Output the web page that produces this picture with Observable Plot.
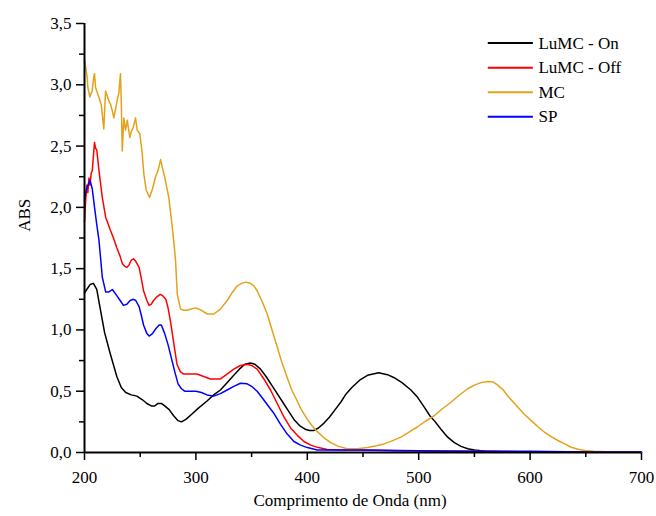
<!DOCTYPE html>
<html><head><meta charset="utf-8">
<script src="https://cdn.jsdelivr.net/npm/d3@7"></script>
<script src="https://cdn.jsdelivr.net/npm/@observablehq/plot@0.6"></script>
</head><body style="margin:0;background:#fff;font-family:'Liberation Serif'"><div id="chart"></div>
<script>
const seriesNames = ["LuMC - On", "LuMC - Off", "MC", "SP"];
const seriesColors = ["#000000", "#ff0000", "#e3a21a", "#0000ff"];

const xTicks = [200, 300, 400, 500, 600, 700];
const xMinorTicks = [250, 350, 450, 550, 650];
const yTicks = [0, 0.5, 1, 1.5, 2, 2.5, 3, 3.5];
const yMinorTicks = [0.25, 0.75, 1.25, 1.75, 2.25, 2.75, 3.25];

const onWl = [200, 202, 205, 208, 211, 214, 218, 223, 229, 233, 237, 242, 247, 252, 256, 260, 263, 266, 269, 272, 276, 280, 284, 287, 291, 296, 302, 310, 316, 322, 328, 334, 339, 344, 349, 353, 358, 363, 368, 373, 378, 383, 388, 393, 398, 402, 406, 410, 415, 420, 425, 430, 435, 440, 447, 454, 464, 472, 478, 485, 493, 499, 505, 510, 514, 520, 526, 532, 538, 544, 550, 560, 580, 640, 700];
const onAbs = [1.30, 1.33, 1.37, 1.38, 1.33, 1.18, 0.98, 0.81, 0.62, 0.53, 0.49, 0.47, 0.46, 0.43, 0.40, 0.38, 0.38, 0.40, 0.40, 0.38, 0.35, 0.30, 0.26, 0.25, 0.27, 0.31, 0.36, 0.42, 0.47, 0.51, 0.57, 0.63, 0.68, 0.72, 0.73, 0.72, 0.68, 0.62, 0.55, 0.48, 0.41, 0.34, 0.27, 0.22, 0.19, 0.18, 0.18, 0.20, 0.24, 0.29, 0.35, 0.41, 0.48, 0.53, 0.59, 0.63, 0.65, 0.635, 0.61, 0.57, 0.51, 0.45, 0.37, 0.30, 0.26, 0.19, 0.125, 0.08, 0.05, 0.03, 0.02, 0.01, 0.005, 0.003, 0.003];

const offWl = [200, 201, 202, 203, 204, 205, 206, 207, 208, 209, 210, 211, 213, 216, 219, 223, 226, 229, 232, 234, 236, 238, 240, 242, 244, 246, 249, 251, 253, 256, 258, 260, 262, 265, 268, 270, 273, 275, 277, 280, 283, 286, 289, 295, 301, 307, 313, 318, 322, 328, 334, 340, 346, 350, 355, 361, 367, 373, 379, 385, 391, 397, 403, 410, 418, 430, 450, 480, 520, 560, 600, 650, 700];
const offAbs = [1.88, 2.05, 2.18, 2.12, 2.24, 2.18, 2.28, 2.30, 2.42, 2.53, 2.48, 2.47, 2.30, 2.08, 1.92, 1.82, 1.75, 1.67, 1.60, 1.54, 1.52, 1.51, 1.53, 1.57, 1.58, 1.56, 1.51, 1.42, 1.32, 1.24, 1.20, 1.21, 1.24, 1.27, 1.29, 1.28, 1.25, 1.18, 1.08, 0.90, 0.72, 0.66, 0.64, 0.64, 0.64, 0.62, 0.60, 0.60, 0.60, 0.64, 0.68, 0.71, 0.72, 0.71, 0.68, 0.60, 0.51, 0.40, 0.29, 0.20, 0.14, 0.09, 0.06, 0.04, 0.025, 0.02, 0.02, 0.015, 0.01, 0.01, 0.005, 0.003, 0.003];

const mcWl = [200, 201, 202.4, 203, 204.8, 206, 206.9, 208.4, 209, 209.9, 211, 212.8, 215, 217.3, 218.9, 220, 221.8, 223.4, 224.9, 226.3, 228.7, 229.9, 230.8, 232.3, 233, 233.9, 235.3, 236.8, 238.4, 240.7, 242, 243.7, 245.8, 247.3, 249.7, 251.8, 253.3, 255.4, 258.4, 261, 263.8, 266, 268.3, 270, 271.9, 275.7, 278, 280.2, 281.7, 283.3, 286.2, 289, 292.2, 296, 299.7, 305, 310.2, 316.1, 322, 328.1, 333, 337.1, 341, 344.6, 349, 352, 355, 360, 364, 368, 373, 377, 382, 386, 391, 394, 400, 405, 409, 415, 421, 428, 436, 445, 454, 462, 469, 476, 484, 491, 499, 506, 514, 521, 529, 536, 544, 550, 556, 562, 567, 571, 576, 580, 585, 589, 595, 601, 607, 613, 619, 625, 631, 637, 643, 649, 657, 670, 700];
const mcAbs = [3.20, 3.15, 3.06, 2.98, 2.90, 2.93, 2.95, 3.07, 3.09, 2.98, 2.95, 2.90, 2.84, 2.64, 2.95, 2.92, 2.87, 2.84, 2.79, 2.73, 2.84, 2.90, 2.93, 3.09, 2.87, 2.46, 2.73, 2.63, 2.71, 2.57, 2.62, 2.65, 2.73, 2.63, 2.60, 2.44, 2.27, 2.14, 2.08, 2.15, 2.25, 2.30, 2.39, 2.32, 2.25, 2.08, 1.90, 1.72, 1.57, 1.29, 1.17, 1.16, 1.16, 1.17, 1.18, 1.16, 1.13, 1.13, 1.17, 1.24, 1.31, 1.36, 1.38, 1.39, 1.38, 1.36, 1.32, 1.22, 1.13, 1.01, 0.86, 0.74, 0.61, 0.51, 0.42, 0.36, 0.27, 0.21, 0.17, 0.12, 0.08, 0.05, 0.03, 0.03, 0.04, 0.055, 0.07, 0.095, 0.125, 0.165, 0.21, 0.255, 0.30, 0.355, 0.41, 0.465, 0.52, 0.55, 0.57, 0.58, 0.575, 0.55, 0.51, 0.46, 0.41, 0.37, 0.31, 0.26, 0.21, 0.165, 0.13, 0.098, 0.07, 0.043, 0.027, 0.016, 0.01, 0.006, 0.005];

const spWl = [200, 201, 202, 203, 205, 207, 209, 211, 213, 216, 219, 222, 225, 229, 232, 235, 238, 241, 244, 246, 249, 251, 253, 256, 258, 261, 264, 267, 269, 272, 275, 278, 281, 284, 287, 290, 295, 300, 305, 310, 316, 322, 328, 334, 340, 346, 350, 355, 360, 365, 370, 376, 382, 388, 394, 400, 409, 420, 450, 500, 550, 600, 650, 700];
const spAbs = [2.06, 2.12, 2.15, 2.18, 2.22, 2.15, 2.00, 1.86, 1.73, 1.43, 1.31, 1.31, 1.33, 1.28, 1.24, 1.20, 1.21, 1.24, 1.25, 1.24, 1.19, 1.12, 1.04, 0.97, 0.95, 0.97, 1.01, 1.04, 1.04, 0.97, 0.88, 0.77, 0.66, 0.56, 0.52, 0.50, 0.50, 0.50, 0.49, 0.47, 0.46, 0.48, 0.51, 0.54, 0.565, 0.56, 0.54, 0.50, 0.44, 0.38, 0.32, 0.23, 0.15, 0.09, 0.06, 0.04, 0.02, 0.02, 0.02, 0.015, 0.01, 0.01, 0.005, 0.005];

const seriesWl = [onWl, offWl, mcWl, spWl];
const seriesAbs = [onAbs, offAbs, mcAbs, spAbs];
const rows = [];
seriesNames.forEach((name, i) => {
  seriesWl[i].forEach((w, j) => rows.push({series: name, wl: w, abs: seriesAbs[i][j]}));
});

// legend layout (in data units)
const legX1 = 562, legX2 = 602.5, legTextX = 607.5, legTop = 3.34, legStep = 0.2;
const legend = seriesNames.map((name, i) => ({series: name, y: legTop - i * legStep}));
const yLabelPos = 1.80;

const font = "Liberation Serif";
const fs = 17;
const fmt = v => v.toFixed(1).replace(".", ",");

const chart = Plot.plot({
  width: 656, height: 516,
  marginLeft: 84, marginRight: 15, marginTop: 23, marginBottom: 64,
  style: "background: #fff; color: #000; font-family: 'Liberation Serif'; font-size: 17px;",
  x: {domain: [200, 700]},
  y: {domain: [0, 3.5]},
  color: {domain: seriesNames, range: seriesColors},
  marks: [
    Plot.axisY({ticks: yTicks, tickSize: 8, tickPadding: 5, tickFormat: fmt, label: null, strokeWidth: 1.5, fontSize: fs, fontFamily: font}),
    Plot.axisY({ticks: yMinorTicks, tickSize: 5, tickFormat: () => "", label: null, strokeWidth: 1.5}),
    Plot.axisX({ticks: xTicks, tickSize: 8, tickPadding: 10, tickFormat: d => String(d), label: null, strokeWidth: 1.5, fontSize: fs, fontFamily: font}),
    Plot.axisX({ticks: xMinorTicks, tickSize: 5, tickFormat: () => "", label: null, strokeWidth: 1.5}),
    Plot.line(rows, {x: "wl", y: "abs", z: "series", stroke: "series", strokeWidth: 1.5}),
    Plot.ruleX([200], {stroke: "#000", strokeWidth: 2}),
    Plot.ruleY([0], {stroke: "#000", strokeWidth: 2}),
    Plot.text(["ABS"], {frameAnchor: "left", y: () => yLabelPos, rotate: -90, dx: -60, fontSize: fs, fontFamily: font, fill: "#000"}),
    Plot.text(["Comprimento de Onda (nm)"], {frameAnchor: "bottom", dy: 53, dx: -13, fontSize: fs, fontFamily: font, fill: "#000"}),
    Plot.link(legend, {x1: () => legX1, x2: () => legX2, y1: "y", y2: "y", stroke: "series", strokeWidth: 2}),
    Plot.text(legend, {x: () => legTextX, y: "y", text: "series", textAnchor: "start", fontSize: fs, fontFamily: font, fill: "#000"})
  ]
});
document.getElementById("chart").appendChild(chart);
</script>
</body></html>
